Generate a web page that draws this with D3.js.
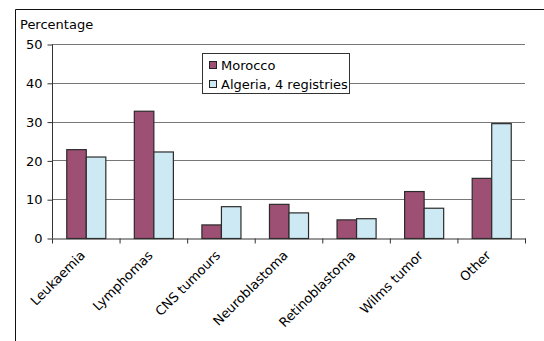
<!DOCTYPE html>
<html>
<head>
<meta charset="utf-8">
<script src="https://cdn.jsdelivr.net/npm/d3@7"></script>
<style>
  html, body { margin: 0; padding: 0; background: #fff; }
  svg text { font-family: "DejaVu Sans", Verdana, sans-serif; fill: #000; }
</style>
</head>
<body>
<svg id="chart" width="544" height="341"></svg>
<script>
// Childhood cancer distribution by diagnostic group (%)
const categories = ["Leukaemia", "Lymphomas", "CNS tumours", "Neuroblastoma", "Retinoblastoma", "Wilms tumor", "Other"];
const seriesNames = ["Morocco", "Algeria, 4 registries"];
const morocco = [22.9, 32.8, 3.5, 8.8, 4.8, 12.1, 15.5];
const algeria = [21.0, 22.3, 8.2, 6.6, 5.1, 7.8, 29.6];
const yTicks = [0, 10, 20, 30, 40, 50];
const colors = ["#9e4f74", "#cde9f3"];

const svg = d3.select("#chart");
const plot = { left: 52, right: 525, top: 44, bottom: 238 };
const fontSize = 13;

// outer frame (top and left edges)
svg.append("line").attr("x1", 15.5).attr("x2", 544).attr("y1", 9.5).attr("y2", 9.5)
  .attr("stroke", "#111").attr("stroke-width", 1);
svg.append("line").attr("x1", 15.5).attr("x2", 15.5).attr("y1", 9.5).attr("y2", 341)
  .attr("stroke", "#111").attr("stroke-width", 1);

const x0 = d3.scaleBand().domain(categories).range([plot.left, plot.right]).paddingInner(0).paddingOuter(0);
const x1 = d3.scaleBand().domain(seriesNames).range([0, x0.bandwidth()]).paddingInner(0).paddingOuter(0.73);
const y = d3.scaleLinear().domain([0, 50]).range([plot.bottom, plot.top]);

// gridlines
svg.append("g").selectAll("line").data(yTicks.filter(d => d > 0)).join("line")
  .attr("x1", plot.left).attr("x2", plot.right)
  .attr("y1", d => Math.round(y(d)) + 0.5).attr("y2", d => Math.round(y(d)) + 0.5)
  .attr("stroke", "#777").attr("stroke-width", 1);

// y axis
const yAxis = svg.append("g").attr("transform", `translate(${plot.left + 0.5},0.5)`)
  .call(d3.axisLeft(y).tickValues(yTicks).tickSize(5).tickPadding(5));
yAxis.select(".domain").attr("stroke", "#333").attr("d", `M0,${y(50)}V${y(0)}`);
yAxis.selectAll(".tick line").attr("stroke", "#333");
yAxis.selectAll("text").attr("font-size", fontSize).style("font-family", '"DejaVu Sans", Verdana, sans-serif');

// bars
const groups = svg.append("g").selectAll("g").data(categories).join("g")
  .attr("transform", d => `translate(${x0(d)},0)`);
groups.selectAll("rect").data((d, i) => [
    { s: seriesNames[0], v: morocco[i], c: colors[0] },
    { s: seriesNames[1], v: algeria[i], c: colors[1] }
  ]).join("rect")
  .attr("x", d => x1(d.s) + 0.5)
  .attr("y", d => y(d.v) + 0.5)
  .attr("width", x1.bandwidth())
  .attr("height", d => y(0) - y(d.v))
  .attr("fill", d => d.c)
  .attr("stroke", "#2b2b2b").attr("stroke-width", 1.2);

// x axis
const xAxis = svg.append("g").attr("transform", `translate(0.5,${plot.bottom + 0.5})`)
  .call(d3.axisBottom(x0).tickSize(0).tickFormat(""));
xAxis.select(".domain").attr("stroke", "#333");
xAxis.append("g").selectAll("line").data(d3.range(categories.length + 1)).join("line")
  .attr("x1", i => plot.left + i * x0.bandwidth()).attr("x2", i => plot.left + i * x0.bandwidth())
  .attr("y1", 0).attr("y2", 5).attr("stroke", "#333");

// rotated category labels
svg.append("g").selectAll("text").data(categories).join("text")
  .attr("transform", d => `translate(${x0(d) + x0.bandwidth() / 2 - 3},${plot.bottom + 15}) rotate(-45)`)
  .attr("text-anchor", "end")
  .attr("dy", "0.35em")
  .attr("font-size", fontSize)
  .text(d => d);

// axis title
svg.append("text").attr("x", 20).attr("y", 29).attr("font-size", fontSize).text("Percentage");

// legend
const lg = svg.append("g").attr("transform", "translate(202,53)");
lg.append("rect").attr("x", 0.5).attr("y", 0.5).attr("width", 147).attr("height", 40)
  .attr("fill", "#fff").attr("stroke", "#333");
seriesNames.forEach((name, i) => {
  lg.append("rect").attr("x", 7.5).attr("y", 8.5 + i * 19).attr("width", 7).attr("height", 7)
    .attr("fill", colors[i]).attr("stroke", "#222");
  lg.append("text").attr("x", 19).attr("y", 12 + i * 19).attr("dy", "0.35em")
    .attr("font-size", fontSize).text(name);
});
</script>
</body>
</html>
